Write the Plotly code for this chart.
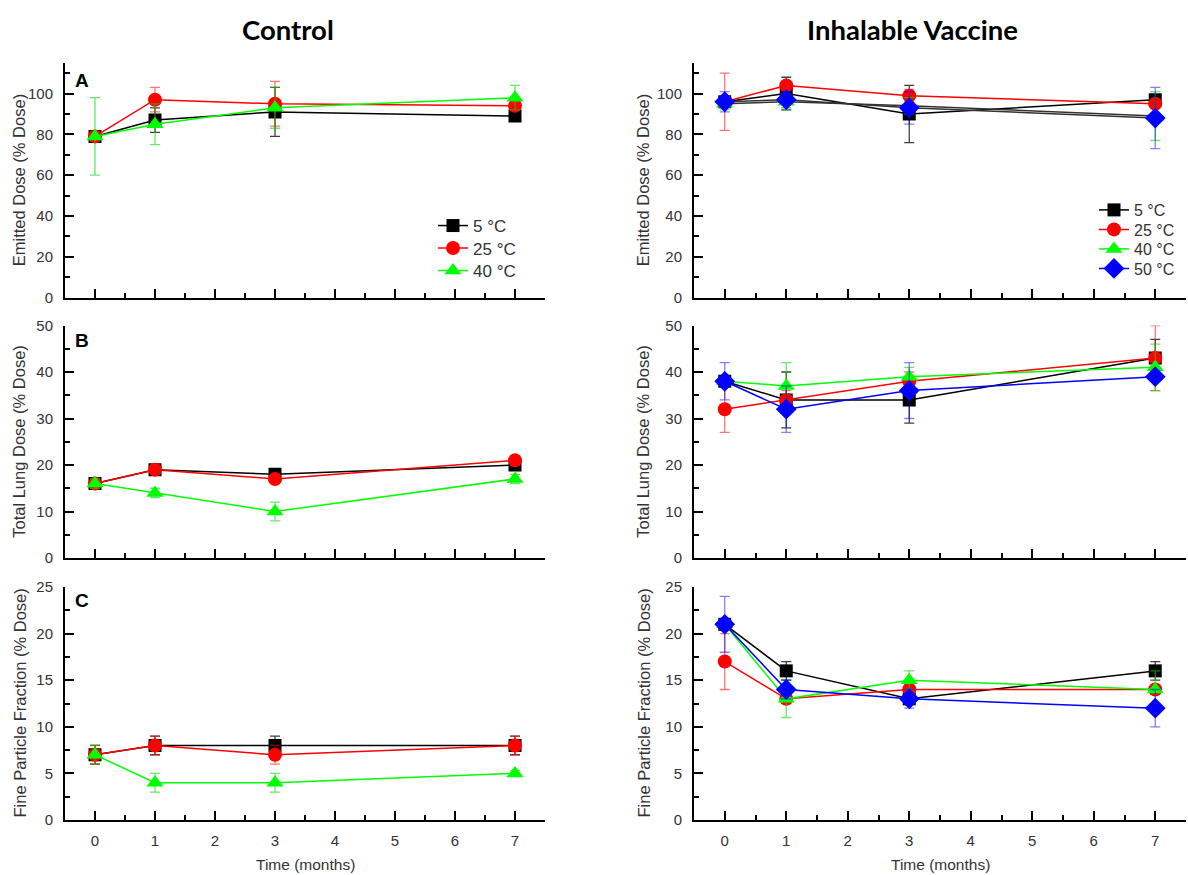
import plotly.graph_objects as go
from plotly.subplots import make_subplots

# ---------------- data ----------------
months = [0, 1, 3, 7]
control_labels = ["5 °C", "25 °C", "40 °C"]
vaccine_labels = ["5 °C", "25 °C", "40 °C", "50 °C"]

# Control - Emitted Dose
ctrl_ed_5 = [79, 87, 91, 89]
ctrl_ed_5_err = [1, 6, 12, 2]
ctrl_ed_25 = [79, 97, 95, 94]
ctrl_ed_25_err = [1, 6, 11, 2]
ctrl_ed_40 = [79, 85, 93, 98]
ctrl_ed_40_err = [19, 10, 10, 6]

# Control - Total Lung Dose
ctrl_tl_5 = [16, 19, 18, 20]
ctrl_tl_5_err = [1, 1, 1, 1]
ctrl_tl_25 = [16, 19, 17, 21]
ctrl_tl_25_err = [1, 1, 1, 1]
ctrl_tl_40 = [16, 14, 10, 17]
ctrl_tl_40_err = [1, 1, 2, 1]

# Control - Fine Particle Fraction
ctrl_fp_5 = [7, 8, 8, 8]
ctrl_fp_5_err = [1, 1, 1, 1]
ctrl_fp_25 = [7, 8, 7, 8]
ctrl_fp_25_err = [1, 1, 1, 1]
ctrl_fp_40 = [7, 4, 4, 5]
ctrl_fp_40_err = [1, 1, 1, 0.3]

# Vaccine - Emitted Dose
vac_ed_5 = [96, 100, 90, 97]
vac_ed_5_err = [2, 8, 14, 2]
vac_ed_25 = [96, 104, 99, 95]
vac_ed_25_err = [14, 2, 3, 2]
vac_ed_40 = [95, 96, 94, 89]
vac_ed_40_err = [3, 4, 4, 12]
vac_ed_50 = [96, 97, 93, 88]
vac_ed_50_err = [5, 4, 8, 15]

# Vaccine - Total Lung Dose
vac_tl_5 = [38, 34, 34, 43]
vac_tl_5_err = [1, 6, 5, 4]
vac_tl_25 = [32, 34, 38, 43]
vac_tl_25_err = [5, 2, 2, 7]
vac_tl_40 = [38, 37, 39, 41]
vac_tl_40_err = [1, 5, 2, 5]
vac_tl_50 = [38, 32, 36, 39]
vac_tl_50_err = [4, 5, 6, 1]

# Vaccine - Fine Particle Fraction
vac_fp_5 = [21, 16, 13, 16]
vac_fp_5_err = [0.5, 1, 0.5, 1]
vac_fp_25 = [17, 13, 14, 14]
vac_fp_25_err = [3, 0.5, 0.5, 0.5]
vac_fp_40 = [21, 13, 15, 14]
vac_fp_40_err = [0.5, 2, 1, 2]
vac_fp_50 = [21, 14, 13, 12]
vac_fp_50_err = [3, 1, 1, 2]

# ---------------- styles ----------------
COLORS = ["#000000", "#ff0000", "#00ff00", "#0000ff"]
ERR_COLORS = ["rgba(0,0,0,0.75)", "rgba(255,0,0,0.55)", "rgba(0,220,0,0.6)", "rgba(0,0,255,0.5)"]
SYMBOLS = ["square", "circle", "triangle-up", "diamond"]
SIZES = [13, 14, 15, 16]
FONT = "Liberation Sans, Arial, sans-serif"
TXT = "#333333"

LEFT_LEGENDS = ["legend", "legend3", "legend4"]
RIGHT_LEGENDS = ["legend2", "legend5", "legend6", "legend7"]

fig = make_subplots(rows=3, cols=2)


def add(row, col, ys, errs, idx, name, legend=None, line_color=None):
    fig.add_trace(
        go.Scatter(
            x=months, y=ys, name=name, mode="lines+markers",
            line=dict(color=line_color or COLORS[idx], width=1.5),
            marker=dict(color=COLORS[idx], symbol=SYMBOLS[idx], size=SIZES[idx], line=dict(width=0)),
            error_y=dict(type="data", array=errs, color=ERR_COLORS[idx], thickness=1.3, width=5),
            showlegend=legend is not None,
            legend=legend or "legend",
        ),
        row=row, col=col,
    )


# Control column
ctrl_sets = [
    [(ctrl_ed_5, ctrl_ed_5_err), (ctrl_ed_25, ctrl_ed_25_err), (ctrl_ed_40, ctrl_ed_40_err)],
    [(ctrl_tl_5, ctrl_tl_5_err), (ctrl_tl_25, ctrl_tl_25_err), (ctrl_tl_40, ctrl_tl_40_err)],
    [(ctrl_fp_5, ctrl_fp_5_err), (ctrl_fp_25, ctrl_fp_25_err), (ctrl_fp_40, ctrl_fp_40_err)],
]
for r, sets in enumerate(ctrl_sets, start=1):
    for i, (ys, es) in enumerate(sets):
        add(r, 1, ys, es, i, control_labels[i], legend=LEFT_LEGENDS[i] if r == 1 else None)

# Vaccine column
vac_sets = [
    [(vac_ed_5, vac_ed_5_err), (vac_ed_25, vac_ed_25_err), (vac_ed_40, vac_ed_40_err), (vac_ed_50, vac_ed_50_err)],
    [(vac_tl_5, vac_tl_5_err), (vac_tl_25, vac_tl_25_err), (vac_tl_40, vac_tl_40_err), (vac_tl_50, vac_tl_50_err)],
    [(vac_fp_5, vac_fp_5_err), (vac_fp_25, vac_fp_25_err), (vac_fp_40, vac_fp_40_err), (vac_fp_50, vac_fp_50_err)],
]
for r, sets in enumerate(vac_sets, start=1):
    for i, (ys, es) in enumerate(sets):
        lc = "#333333" if (r == 1 and i >= 2) else None
        add(r, 2, ys, es, i, vaccine_labels[i], legend=RIGHT_LEGENDS[i] if r == 2 else None, line_color=lc)

# ---------------- layout ----------------
ML, MR, MT, MB = 65, 2, 63, 55
W, H = 1188, 875
PW, PH = W - ML - MR, H - MT - MB


def px_x(p):
    return (p - ML) / PW


def px_y(p):
    return (H - MB - p) / PH


x_left = [0, px_x(545)]
x_right = [px_x(694), 1]
y_rows = [[px_y(297.5), 1.0], [px_y(558), px_y(325.5)], [px_y(820), px_y(587)]]
y_ranges = [[0, 115], [0, 50], [0, 25]]
y_dticks = [20, 10, 5]

axis_common = dict(
    showline=True, linecolor="black", linewidth=2, ticks="inside", ticklen=9, tickwidth=1.5,
    tickcolor="black", showgrid=False, zeroline=False,
    tickfont=dict(family=FONT, size=15, color=TXT),
)

for r in range(3):
    for c in range(2):
        n = r * 2 + c + 1
        xa = "xaxis" if n == 1 else f"xaxis{n}"
        ya = "yaxis" if n == 1 else f"yaxis{n}"
        fig.layout[xa].update(
            domain=x_left if c == 0 else x_right, range=[-0.5, 7.5], tickmode="linear", tick0=0, dtick=1,
            showticklabels=(r == 2), ticklabelstandoff=6,
            minor=dict(ticks="inside", ticklen=5, tickwidth=1.5, tickcolor="black", dtick=0.5, tick0=0),
            **axis_common,
        )
        fig.layout[ya].update(
            domain=y_rows[r], range=y_ranges[r], tickmode="linear", tick0=0, dtick=y_dticks[r],
            ticklabelstandoff=7,
            minor=dict(ticks="inside", ticklen=5, tickwidth=1.5, tickcolor="black", dtick=y_dticks[r] / 2, tick0=0),
            **axis_common,
        )

annotations = []
TITLE_FONT = dict(family="Lato, Open Sans, sans-serif", size=27.5, color="black")
annotations.append(dict(text="<b>Control</b>", x=px_x(288), y=px_y(30), xref="paper", yref="paper",
                        showarrow=False, font=TITLE_FONT, xanchor="center", yanchor="middle"))
annotations.append(dict(text="<b>Inhalable Vaccine</b>", x=px_x(912), y=px_y(30), xref="paper", yref="paper",
                        showarrow=False, font=TITLE_FONT, xanchor="center", yanchor="middle"))
for letter, py in zip(["A", "B", "C"], [80, 340, 600]):
    annotations.append(dict(text=f"<b>{letter}</b>", x=px_x(82), y=px_y(py), xref="paper", yref="paper",
                            showarrow=False, font=dict(family=FONT, size=19, color="black"),
                            xanchor="center", yanchor="middle"))
ytitles = ["Emitted Dose (% Dose)", "Total Lung Dose (% Dose)", "Fine Particle Fraction (% Dose)"]
for r, t in enumerate(ytitles):
    yc = (y_rows[r][0] + y_rows[r][1]) / 2
    for xp in [px_x(19), px_x(643)]:
        annotations.append(dict(text=t, x=xp, y=yc, xref="paper", yref="paper", textangle=-90,
                                showarrow=False, font=dict(family=FONT, size=16.5, color=TXT),
                                xanchor="center", yanchor="middle"))
for xc in [px_x(305), px_x(940)]:
    annotations.append(dict(text="Time (months)", x=xc, y=px_y(864), xref="paper", yref="paper",
                            showarrow=False, font=dict(family=FONT, size=15.5, color=TXT),
                            xanchor="center", yanchor="middle"))

legend_layout = {}
for name, cy in zip(LEFT_LEGENDS, [226, 248.5, 271]):
    legend_layout[name] = dict(x=px_x(433), y=px_y(cy), xanchor="left", yanchor="middle",
                               bgcolor="rgba(0,0,0,0)", font=dict(family=FONT, size=17, color=TXT),
                               itemwidth=30)
for name, cy in zip(RIGHT_LEGENDS, [210, 229.5, 249, 268.5]):
    legend_layout[name] = dict(x=px_x(1094), y=px_y(cy), xanchor="left", yanchor="middle",
                               bgcolor="rgba(0,0,0,0)", font=dict(family=FONT, size=16, color=TXT),
                               itemwidth=30)

fig.update_layout(
    width=W, height=H,
    margin=dict(l=ML, r=MR, t=MT, b=MB),
    paper_bgcolor="white", plot_bgcolor="white",
    annotations=annotations,
    **legend_layout,
)

fig.write_html("out.html")
